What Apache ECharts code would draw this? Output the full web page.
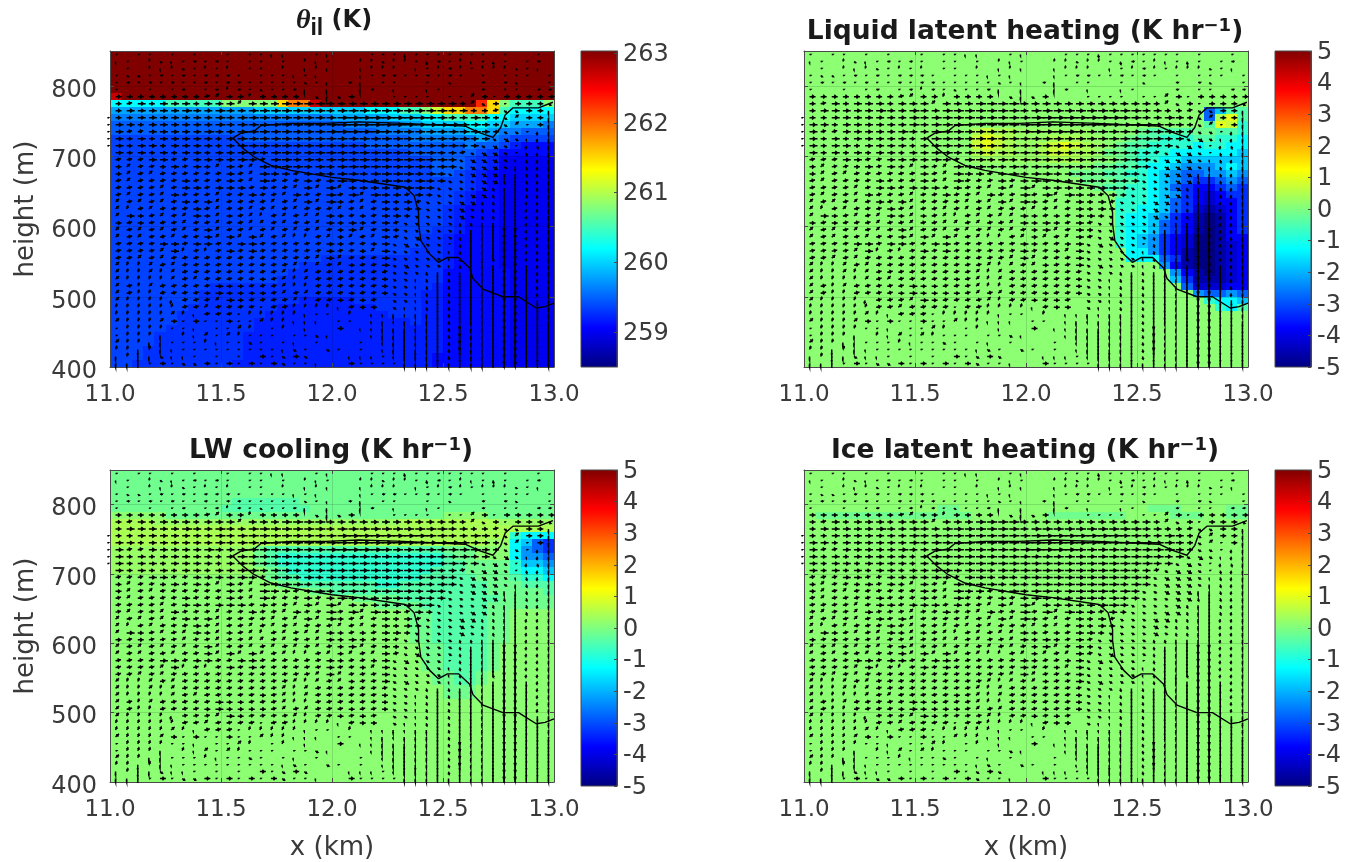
<!DOCTYPE html>
<html><head><meta charset="utf-8"><style>html,body{margin:0;background:#fff}#c{width:1352px;height:862px}</style>
<script src="https://cdn.jsdelivr.net/npm/echarts@6/dist/echarts.min.js"></script></head><body><div id="c"></div>
<script>
// Grid: 40 columns (x centres 11.025 + 0.05 c km), 45 rows (z centres 845 - 10 r m)
const xTicks=[11,11.5,12,12.5,13];
const zTicks=[400,500,600,700,800];
const thetaTicks=[259,260,261,262,263];
const heatTicks=[-5,-4,-3,-2,-1,0,1,2,3,4,5];
const thetaLevels={a:259.0,b:259.1,c:259.2,d:259.28,e:259.36,f:259.48,g:259.62,h:259.8,i:260,j:260.2,k:260.5,l:260.8,m:261.1,n:261.5,o:261.9,p:262.3,q:262.7,r:263.03};
const heatLevels={A:-5,B:-4.6,C:-4.2,D:-3.8,E:-3.3,F:-2.8,G:-2.3,H:-1.8,I:-1.3,J:-0.8,K:-0.42,L:-0.15,M:0.12,m:0.25,N:0.42,O:0.7,P:1.0};
const thetaRows=[
"rrrrrrrrrr rrrrrrrrrr rrrrrrrrrr rrrrrrrrrr","rrrrrrrrrr rrrrrrrrrr rrrrrrrrrr rrrrrrrrrr","rrrrrrrrrr rrrrrrrrrr rrrrrrrrrr rrrrrrrrrr",
"rrrrrrrrrr rrrrrrrrrr rrrrrrrrrr rrrrrrrrrr","rrrrrrrrrr rrrrrrrrrr rrrrrrrrrr rrrrrrrrrr","rrrrrrrrrr rrrrrrrrrr rrrrrrrrrr rrrrrrrrrr",
"qrrrrrrrrr rrrrrrrrrr rrrrrrrrrr rrrrrrrrrr",
"jjjjjkkkkk lllllnooqr rrrrrrrrrr rrrpnlkkkl",
"hhhhhhhhhh hhhiiiiiii iiijjjkklm nnoonkjjjj",
"gggggggggg gggggggggg hhhhhiiijj kkkkjjiiii",
"ffffffffff ffffffffff fggggghhii iijjiihhhg",
"ffffffffff ffffffffff ffffgggghh hhiihggfff",
"eeeeeeeeee eeffffffff fffffffggg ggghgfeeee",
"eeeeeeeeee eeeeeeeeee eeefffffff ffgffecbbb",
"eeeeeeeeee eeeeeeeeee eeeeeeefff fffedbbbbb",
"eeeeeeeeee eeeeeeeeee eeeeeeeeef ffedcaaaaa","eeeeeeeeee eeeeeeeeee eeeeeeeeef ffedcaaaaa","eeeeeeeeee eeeeeeeeee eeeeeeeeef fedcbaaaaa",
"eeeeeeeeee eeeeeeeeee eeeeeeeeee eedcbaaaaa","eeeeeeeeee eeeeeeeeee eeeeeeeeee eedcbaaaaa","eeeeeeeeee eeeeeeeeee eeeeeeeeee edcbbaaaaa","eeeeeeeeee eeeeeeeeee eeeeeeeeee edcbbaaaaa","eeeeeeeeee eeeeeeeeee eeeeeeeeee dcbbbaaaaa",
"eeeeeeeeee eeeeeeeeee eeeeeeeeee dcbbbaaaaa","eeeeeeeeee eeeeeeeeee eeeeeeeeee dcbbbaaaaa","eeeeeeeeee eeeeeeeeee eeeeeeeeed dcbbbaaaaa","eeeeeeeeee eeeeeeeeee eeeeeeeedd cbbbbaaaaa","eeeeeeeeee eeeeeeeeee eeeeeeeedd cbbbbaaaaa","eeeeeeeeee eeeeeeeeee eeeeeeeddd cbbbbaaaaa",
"eeeeeeeeee eeeeeeeeed dddddddddd cbbbbaaaaa","eeeeeeeeee eeeeeeeddd dddddddddd cbbbbaaaaa","eeeeeeeeee eeeeeedddd dddddddddd bbbbbbaaaa","eeeeeeeeee eeeeeddddd dddddddddd bbbbbbaaaa",
"eeeeeeeeed dddddddddd dddddddddc bbbbbbaaaa","eeeeeeeedd dddddddddd ddddddddcc bbbbbbaaaa","eeeeeeeedd dddddddccc ccddddddcc bbbbbbaaaa",
"eeeeeeeddd dddddccccc ccccddddcc bbbbbbaaaa","eeeeeedddd ddddcccccc cccccdddcc bbbbbbaaaa","eeeeeedddd dddccccccc cccccccdcc bbbbbbaaaa","eeeeeddddd dddccccccc cccccccccc bbbbbbaaaa",
"eeeedddddd ddcccccccc cccccccccc bbbbbbaaaa","eeeedddddd ddcccccccc cccccccccc bbbbbbaaaa","eeeddddddd ddcccccccc cccccccccc bbbbbbaaaa","eeeddddddd ddcccccccc cccccccccb bbbbbbaaaa","eedddddddd dccccccccc cccccccccb bbbbbbaaaa"];
const liquidRows=["","","","","","","","",
"MMMMMMMMMM MMMMMMMMMM MMMMMMMMMM MMMMMMFHKK",
"MMMMMMMMMM MMMMMMMMMM MMMMMMMMMM MMMMMMFNPK",
"MMMMMMMMMM MMMMMMMMMM MMMMMMMMMM MMMMMMKPOJ",
"MMMMMMMMMM MMMMMNONNm mmmmmmMMMM LKKKKLLKKJ",
"MMMMMMMMMM MMMMMOPONm mmNNNmmMML KKJJJKKJJI",
"MMMMMMMMMM MMMMMOPONm mNOPONmMLK KJJJJIJJII",
"MMMMMMMMMM MMMMMNONNm mNOONNmLLK JJJIIIIIIH",
"MMMMMMMMMM MMMMMmmmmm mmNNNmMMLK JJIIHHHHHH",
"MMMMMMMMMM MMMMMMMMMM MMMMMMLLKK JIIHGGGHIH",
"MMMMMMMMMM MMMMMMMMMM MMMMLLLKKJ JIHGFFGGHG",
"MMMMMMMMMM MMMMMMMMMM MMMMMLLLKK JIHGFEEFGF",
"MMMMMMMMMM MMMMMMMMMM MMMMMMLKKJ JIHFEDDEFE",
"MMMMMMMMMM MMMMMMMMMM MMMMMMMMKJ JIHGEDCDEE",
"MMMMMMMMMM MMMMMMMMMM MMMMMMMMJJ JIHFEDCDDE",
"MMMMMMMMMM MMMMMMMMMM MMMMMMMMJJ IIHFECBCDE",
"MMMMMMMMMM MMMMMMMMMM MMMMMMMMJI IHGEDBABDE",
"MMMMMMMMMM MMMMMMMMMM MMMMMMMMJI IHFEDBABDE",
"MMMMMMMMMM MMMMMMMMMM MMMMMMMMJI IHFEDBABDE",
"MMMMMMMMMM MMMMMMMMMM MMMMMMMMJI HGEDCAABDD",
"MMMMMMMMMM MMMMMMMMMM MMMMMMMMJI HGEDCAABCD",
"MMMMMMMMMM MMMMMMMMMM MMMMMMMMMI IGEDBAABCD",
"MMMMMMMMMM MMMMMMMMMM MMMMMMMMMI IIFEBAABCD",
"MMMMMMMMMM MMMMMMMMMM MMMMMMMMMM MMGDBAABCD",
"MMMMMMMMMM MMMMMMMMMM MMMMMMMMMM MMMGDBABCD",
"MMMMMMMMMM MMMMMMMMMM MMMMMMMMMM MMMHEBBBCD",
"MMMMMMMMMM MMMMMMMMMM MMMMMMMMMM MMMMFCCCDD",
"MMMMMMMMMM MMMMMMMMMM MMMMMMMMMM MMMMMGFFGF",
"MMMMMMMMMM MMMMMMMMMM MMMMMMMMMM MMMMMMJIIH",
"MMMMMMMMMM MMMMMMMMMM MMMMMMMMMM MMMMMMMJIK"];
const lwRows=[
"LLLLLLLLLL LLLLLLLLLL LLLLLLLLLL LLLLLLLLLL","LLLLLLLLLL LLLLLLLLLL LLLLLLLLLL LLLLLLLLLL","LLLLLLLLLL LLLLLLLLLL LLLLLLLLLL LLLLLLLLLL",
"LLLLLLLLLL LLLLLLLLLL LLLLLLLLLL LLLLLLLLLL","LLLLLLLLLL LKKKKKKLLL LLLLLLLLLL LLLLLLLLLL","LLLLLLLLLL KKKKKKKKLL LLLLLLLLLL LLLLLLLLLL",
"MMMMMLLLLL LLLLLLLLLL LLLLLLLLLL MMMMLLLLLL",
"NNNNmmmmmm mmmmmmmmmm mmmmmmNNNN NNNNNmmmmm",
"NNNNNNNNNN NNNNNNNNNN NNNNNNNNNN NNNNNNNNNN",
"NNNNNNNNNN NNNNNNNNNN NNNNNNNNNN NNNNNNJIII",
"NNNNNNNNNN NNNNNNNNNN NNNNNNNNNN NNNNmmIHFE",
"mmmmmmmmmm mmmLKKKKKK KKKKKKKKKK LLLMMMIGFE",
"mmmmmmmmmm mmmLKJJJJJ JJJJJJJJJJ KLLMMMIGGF",
"mmmmmmmmmm mmmLKJJJJJ JJJJJJJJJJ KKLLLLJHHG",
"mmmmmmmmmm mmmMLKJJJJ JJJJJJJJJK KKLLLLJIIH",
"MMMMMMMMMM MMMMLKKJJJ JJJJJJJJKK KKKLLLKJJI",
"MMMMMMMMMM MMMMMLLKKK KKKKJJKKKK KKKKLLLKKK",
"MMMMMMMMMM MMMMMMMMLL KKKKKKKKKK KKKKLLLLLK",
"MMMMMMMMMM MMMMMMMMMM MMLLLLKKKK KKKKKLLLLL",
"MMMMMMMMMM MMMMMMMMMM MMMMLLLLKK KKKKLLLLLL",
"MMMMMMMMMM MMMMMMMMMM MMMMMMMLLK KKKKLLMMMM","MMMMMMMMMM MMMMMMMMMM MMMMMMMLLK KKKKLLMMMM","MMMMMMMMMM MMMMMMMMMM MMMMMMMLLK KKKKLLMMMM","MMMMMMMMMM MMMMMMMMMM MMMMMMMLLK KKKKLLMMMM","MMMMMMMMMM MMMMMMMMMM MMMMMMMLLK KKKKLLMMMM",
"MMMMMMMMMM MMMMMMMMMM MMMMMMMMLL KKKKLMMMMM","MMMMMMMMMM MMMMMMMMMM MMMMMMMMLL KKKKLMMMMM","MMMMMMMMMM MMMMMMMMMM MMMMMMMMLL KKKKLMMMMM","MMMMMMMMMM MMMMMMMMMM MMMMMMMMLL KKKKLMMMMM",
"MMMMMMMMMM MMMMMMMMMM MMMMMMMMML LKKLMMMMMM","MMMMMMMMMM MMMMMMMMMM MMMMMMMMML LKKLMMMMMM",
"MMMMMMMMMM MMMMMMMMMM MMMMMMMMMM LLLMMMMMMM","MMMMMMMMMM MMMMMMMMMM MMMMMMMMMM LLLMMMMMMM"];
const iceRows=["","","","","",
"MMMMMMMMMM MMLLMMMMMM MMMMMMMMMM MLLLMMMMLL",
"MLLLLLLLLL LLLLLMMMMM MMLLLLLLLM MMMLLLMMLL"];
// Quiver codes: [u, w] in plot-scale units
const arrowCodes={".":[1.5,0],d:[0,-2],s:[3,0],t:[1,2.5],o:[2,-1.5],"-":[6,0],"~":[5.5,1],"=":[8,0],">":[10,0],"#":[13,0],"/":[3.5,3],"^":[1.5,3.5],n:[3,-2],N:[5,-3],",":[-0.7,-3.5],";":[0.7,-3.5],i:[0,-4.5],"|":[0,-8],L:[0,-12]};
const quiverRows=[
"._.._._.__ ._..dd__.d ___...;... ...._.__._",
"d._tod.s.s ._.._._td. __ttott.;s .td.;._.s_",
"_._tdto.t. t_.._t_dtd __dtttud.t st.ttto.d_",
".oo.s.s.ss s._...d.d_ __d.ss..s. s._._..._.",
".s.s.s..s. ss.....o.d _si_..__._ o__s_so__.",
".__._.s_.s ts.o..si_i __is_d__d. ___s_.._ss",
"--------~/ --^----_ni n-___...._ ../-.-----",
"-~=-===-== =/===>>>>= ========== =-/n-.---n",
"-=====>==> ==>>>>>>>= >>>>>>>>>> ==--~nn--i",
"--=======> =>>>>>>>>> ########>> ==>=-n/--i",
"==-======> =>>>>>>>># ########## #>>=-n/.-i",
"=~~=====>= =>>>>>>>># ####>>>>>> >>>=-nn.,i",
"=-=-=====- =>>>>>>>>> >>>>>>>>>> >>==nNnd,i",
"=-==-====- =>>>>>>>>> >>>>>>>>>> >==nNn.,;i",
"=-=-=-==-= =>>=>>=>>> >>>>>>>>>= =~nNNn.;,i",
"~~~==~~=== =>=~>>=>=> >>>>>>>>>> =nNNNnd;,i",
"-/~~-=~=-/ =~/>>>>=>= >>>>>>>>=> =nNNNni;,i",
"-/~/~~~~~~ =~/>==~=>= >>=>>>>=>= nnNNNi|;,i",
"~/~~~~=~~~ =~/>~~~=~= >===>>=>== nnnNN;|;,i",
"~~~~/~==~= ==~=~~/=/> /=====>>=n nnnN;i|;,i",
"~/~~/=~~~/ ~~=~~/=~~> ~>/>==~=-n nnNN;i|;,i",
"/~/~/~=~=/ ~~~~/~/=/> -~/~=-=~nn nNN;;i|,,i",
"/^~/~~~=~/ ~~/~/~/~~~ /~/~=-=-nn nNn;;i|,,i",
"/=-~/~/=-/ -~/^~/~//= -~-~==-nnn nNn;;i|,,i",
"-~-~~~/~~/ ~~//~/~~/= -=-~=~nnnn n;;i|LL,,i",
"/~/~/~/~=/ ~~/~/~/~/~ -=/~=-nnnn n;|i|LL,,i",
"/~/~~/~~=/ =/=/~/^^~/ -/~/=~nNnn n;|i|LL,,i",
"~~~~==~==~ ~==~~~~~~= -~~-=nNnnn .;|i|LL,,i",
"~~~~/=^~^~ =~=~~~~~~= ~~-/=nnnnn d;|i|LL,,i",
"~~/~/~~~~~ ~~~~~~~~/= /~~~=nnnnn d;||;LL,,i",
"/^^/~/~~~~ ~~~~~~/^/~ /-~~=nNnnn d;|i|LL|,i",
"/^^/^/~~~~ ~~~~~/^/~~ ~~~~~nnn;| ;||i|LL|,i",
"/^^^^/~/~~ ~~~-~/^/~~ ~~~~-nnd;| ;||i|LL|,i",
"/~^/~~~~~= --~~~/^^~~ ~~~~-nnd;| ;||i|LL|,i",
"/~^^~~~~-= ----~/~/~~ ~-~~-nnd;| ;||i|LL|,i",
"/^^^^,~~~/ =-~~~~/^~~ -~-~_nnd;| ;||i|LL||i",
"^^^^^^~~/~ ~~~.~~^^^^ d~--_ndd;| ;||i|LL||i",
"^^^^^/^d~~ ~.^^^^^d.. _^_ddidii| ;||i|LL||i",
"/^^^/-.-.. -../^^ddd_ .._didiii| ;Lii|LL|||",
".^^^^..d_. ./^_.^_d__ -_ddii|ii| ;Lii|LL|||",
".^^^i_^d/. /^..._..nd ___dii|ii| ;Lii|LL|||",
"/^^ii...^d ..n._.d_._ __._di|ii| ;Lii|LL|||",
"^^|^id.... .....dn._n ._._di||i| ;|ii|LL|||",
"i^|indd._. _._-.n-n__ _ddd.diii| ;|ii|LL|||",
"ii|.-.nn-. -.-.-n..d_ _-....iii| i|ii|L|||i"];
const offAxisRows=[9,10,11,12,13];
const contourX=[12.995,12.93,12.815,12.78,12.76,12.725,12.66,12.6,12.32,12.12,11.97,11.815,11.68,11.65,11.59,11.553,11.6,11.65,11.725,11.815,12,12.12,12.33,12.37,12.39,12.39,12.4,12.44,12.48,12.52,12.57,12.62,12.635,12.68,12.77,12.84,12.92,12.96,13];
const contourZ=[777,769,769,759,741,727,734,743,747,749,747,747,744,736,733,726,711,699,687,680,670,666,656,644,620,604,580,561,549,556,556,541,526,511,500,500,484,486,491];

const jetStops=[[0,'#000080'],[0.125,'#0000ff'],[0.375,'#00ffff'],[0.625,'#ffff00'],[0.875,'#ff0000'],[1,'#800000']];
function jet(t){const c=v=>Math.round(255*Math.max(0,Math.min(1,v)));
  return `rgb(${c(Math.min(4*t-1.5,4.5-4*t))},${c(Math.min(4*t-0.5,3.5-4*t))},${c(Math.min(4*t+0.5,2.5-4*t))})`;}
function decodeHeat(rows,levels,fill){const out=[];
  for(let r=0;r<45;r++){const s=(rows[r]||'').replace(/ /g,'');
    for(let c=0;c<40;c++){const ch=s[c]||fill;out.push([11.025+0.05*c,845-10*r,levels[ch]]);}}
  return out;}
function decodeQuiver(){const out=[];
  quiverRows.forEach((row,r)=>{const s=row.replace(/ /g,'');
    for(let c=0;c<40;c++){const a=arrowCodes[s[c]];if(a)out.push([11.025+0.05*c,845-10*r,a[0],a[1]]);}});
  offAxisRows.forEach(r=>out.push([10.988,845-10*r,1.5,0]));
  return out;}
const panels=[
 {left:110,top:51,rows:thetaRows,levels:thetaLevels,fill:'e',range:[258.5,263.03],ticks:thetaTicks,yl:true,xn:false,title:'{th|θ}{sub|il}{k| (K)}'},
 {left:804,top:51,rows:liquidRows,levels:heatLevels,fill:'M',range:[-5,5],ticks:heatTicks,yl:false,xn:false,title:'{b|Liquid latent heating (K hr}{sup|−1}{b|)}'},
 {left:110,top:470,rows:lwRows,levels:heatLevels,fill:'M',range:[-5,5],ticks:heatTicks,yl:true,xn:true,title:'{b|LW cooling (K hr}{sup|−1}{b|)}'},
 {left:804,top:470,rows:iceRows,levels:heatLevels,fill:'M',range:[-5,5],ticks:heatTicks,yl:false,xn:true,title:'{b|Ice latent heating (K hr}{sup|−1}{b|)}'}];
const W=444,H=316,ink='#3a3a3a',edge='#4a4a4a',FONT='"DejaVu Sans",sans-serif';
const quiver=decodeQuiver();
const grid=[],xAxis=[],yAxis=[],series=[],title=[];
const line={show:true,onZero:false,lineStyle:{color:edge,width:1}};
const tk=v=>({show:true,inside:true,length:4,customValues:v,lineStyle:{color:edge,width:1}});
const rich={b:{fontSize:26.5,fontWeight:'bold',fontFamily:FONT,color:'#1a1a1a',lineHeight:30},
 k:{fontSize:24,fontWeight:'bold',fontFamily:FONT,color:'#1a1a1a',lineHeight:30},
 sup:{fontSize:18,fontWeight:'bold',fontFamily:FONT,color:'#1a1a1a',verticalAlign:'top',lineHeight:30},
 sub:{fontSize:23,fontWeight:'bold',fontFamily:'"Liberation Sans",sans-serif',color:'#1a1a1a',verticalAlign:'bottom',lineHeight:38},
 th:{fontSize:28,fontStyle:'italic',fontFamily:'"Liberation Serif",serif',color:'#1a1a1a',lineHeight:30}};
panels.forEach((p,i)=>{
  const g=grid.length;
  grid.push({left:p.left,top:p.top,width:W,height:H});
  const xi=xAxis.length,yi=yAxis.length;
  xAxis.push({type:'value',gridIndex:g,min:11,max:13,position:'bottom',z:3,axisLine:line,axisTick:tk(xTicks),
    axisLabel:{show:true,customValues:xTicks,margin:17,fontSize:23,fontFamily:FONT,color:ink,formatter:v=>v.toFixed(1)},
    splitLine:{show:true,lineStyle:{color:'rgba(0,0,0,0.13)',width:1}},
    name:p.xn?'x (km)':'',nameLocation:'middle',nameGap:53,nameTextStyle:{fontSize:26,fontFamily:FONT,color:ink}});
  xAxis.push({type:'value',gridIndex:g,min:11,max:13,position:'top',z:3,axisLine:line,axisTick:tk(xTicks),axisLabel:{show:false},splitLine:{show:false}});
  yAxis.push({type:'value',gridIndex:g,min:400,max:850,position:'left',z:3,axisLine:line,axisTick:tk(zTicks),
    axisLabel:{show:p.yl,customValues:zTicks,margin:13,fontSize:24,fontFamily:FONT,color:ink,verticalAlign:'top',lineHeight:9},
    splitLine:{show:true,lineStyle:{color:'rgba(0,0,0,0.13)',width:1}},
    name:p.yl?'height (m)':'',nameLocation:'middle',nameRotate:90,nameGap:71,nameTextStyle:{fontSize:26,fontFamily:FONT,color:ink}});
  yAxis.push({type:'value',gridIndex:g,min:400,max:850,position:'right',z:3,axisLine:line,axisTick:tk(zTicks),axisLabel:{show:false},splitLine:{show:false}});
  const span=p.range[1]-p.range[0];
  series.push({type:'custom',xAxisIndex:xi,yAxisIndex:yi,z:1,animation:false,silent:true,progressive:0,
    data:decodeHeat(p.rows,p.levels,p.fill),
    renderItem:(ctx,api)=>{const x=api.value(0),z=api.value(1),v=api.value(2);
      const a=api.coord([x-0.025,z+5]),b=api.coord([x+0.025,z-5]);
      const x0=Math.round(a[0]),y0=Math.round(a[1]),x1=Math.round(b[0]),y1=Math.round(b[1]);
      return {type:'rect',shape:{x:x0,y:y0,width:x1-x0,height:y1-y0},style:{fill:jet((v-p.range[0])/span)}};}});
  series.push({type:'custom',xAxisIndex:xi,yAxisIndex:yi,z:4,animation:false,silent:true,progressive:0,
    data:quiver,
    renderItem:(ctx,api)=>{const x=api.value(0),z=api.value(1),u=api.value(2),w=api.value(3);
      const t=api.coord([x,z]),e0=api.coord([x+u*2/W,z+w*450/H]),bot=api.coord([x,400])[1];
      const dx=e0[0]-t[0],dy=e0[1]-t[1],L=Math.hypot(dx,dy);
      const e=[e0[0],Math.min(e0[1],bot)],ux=dx/L,uy=dy/L;
      const vertical=Math.abs(u)<0.01;
      const hw=vertical?(L>=10?1:0.35):Math.min(1.8,0.3*L);
      const tip=[t[0]+dx*0.72,Math.min(t[1]+dy*0.72,bot)],base=[t[0]+dx*0.42,Math.min(t[1]+dy*0.42,bot)];
      const pts=[t,tip,[base[0]-uy*hw,base[1]+ux*hw],tip,[base[0]+uy*hw,base[1]-ux*hw],tip,e];
      return {type:'polyline',shape:{points:pts},style:{stroke:'#000',lineWidth:1.5,fill:null}};}});
  series.push({type:'line',xAxisIndex:xi,yAxisIndex:yi,z:5,animation:false,silent:true,symbol:'none',
    data:contourX.map((v,k)=>[v,contourZ[k]]),lineStyle:{color:'#000',width:1.4}});
  const gc=grid.length;
  grid.push({left:p.left+471,top:p.top,width:36,height:H});
  const xc=xAxis.length,yc=yAxis.length;
  xAxis.push({type:'value',gridIndex:gc,min:0,max:1,show:false});
  yAxis.push({type:'value',gridIndex:gc,min:p.range[0],max:p.range[1],position:'right',z:3,
    axisLine:line,axisTick:{show:true,inside:true,length:3,customValues:p.ticks,lineStyle:{color:edge}},
    axisLabel:{show:true,customValues:p.ticks,margin:6,fontSize:24,fontFamily:FONT,color:ink,verticalAlign:'top',lineHeight:3},splitLine:{show:false}});
  series.push({type:'custom',xAxisIndex:xc,yAxisIndex:yc,z:1,animation:false,silent:true,
    data:[[0,p.range[0],1,p.range[1]]],
    renderItem:(ctx,api)=>{const a=api.coord([api.value(0),api.value(3)]),b=api.coord([api.value(2),api.value(1)]);
      return {type:'rect',shape:{x:a[0],y:a[1],width:b[0]-a[0],height:b[1]-a[1]},
        style:{fill:new echarts.graphic.LinearGradient(0,1,0,0,jetStops.map(s=>({offset:s[0],color:s[1]}))),stroke:edge,lineWidth:1}};}});
  title.push({text:p.title,left:p.left+W/2-(i==0?3:6),top:p.top-(i==0?54:39),textAlign:'center',textStyle:{rich}});
});
const chart=echarts.init(document.getElementById('c'),null,{renderer:'canvas'});
chart.setOption({animation:false,backgroundColor:'#fff',title,grid,xAxis,yAxis,series});
</script></body></html>
